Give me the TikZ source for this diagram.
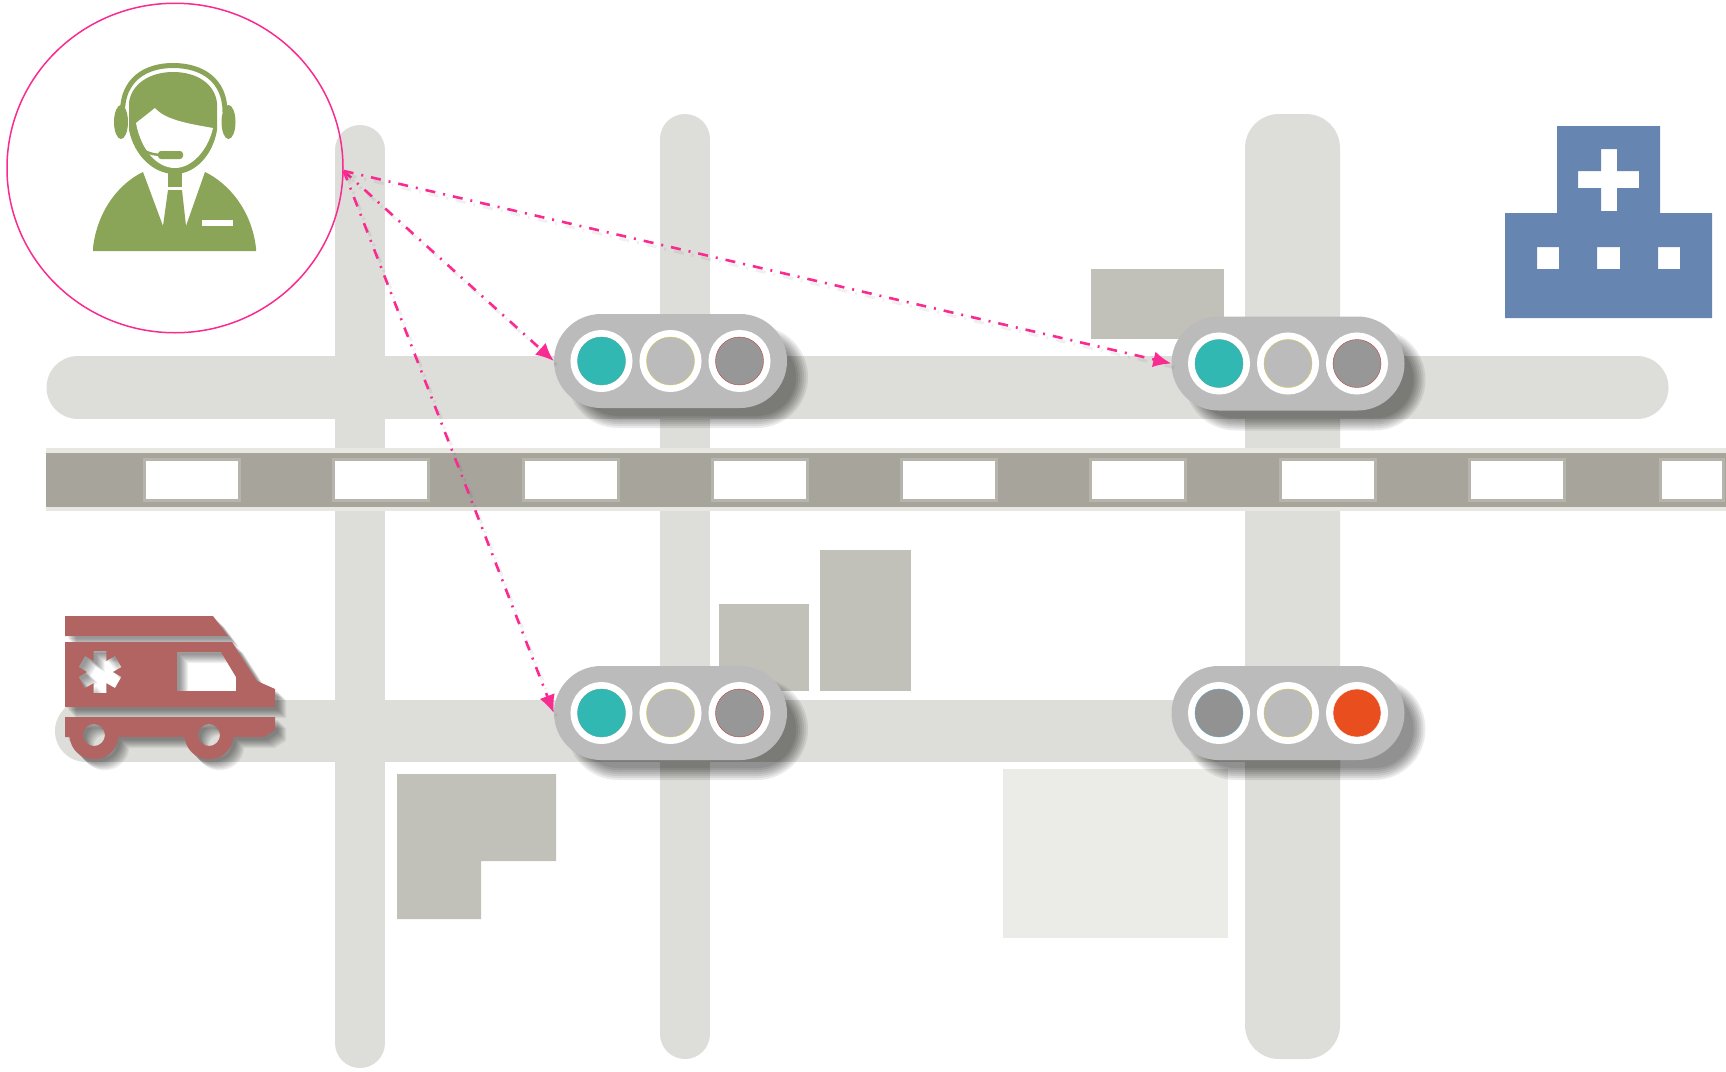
\documentclass[tikz,border=0pt]{standalone}
\usepackage{xcolor}
\usetikzlibrary{arrows.meta,positioning,shapes.geometric}
\definecolor{roadgrey}{HTML}{DDDDD9}
\definecolor{railgrey}{HTML}{A7A49B}
\definecolor{railedge}{HTML}{E8E7E2}
\definecolor{railframe}{HTML}{B6B4AB}
\definecolor{blockgrey}{HTML}{C2C1B9}
\definecolor{blockpale}{HTML}{EBEBE7}
\definecolor{linkpink}{HTML}{F92B90}
\definecolor{agentgreen}{HTML}{8BA558}
\definecolor{ambred}{HTML}{B16461}
\definecolor{hospblue}{HTML}{6685B0}
\definecolor{sigbody}{HTML}{BBBBBB}
\definecolor{lampteal}{HTML}{32B8B2}
\definecolor{lampdark}{HTML}{979797}
\definecolor{lampred}{HTML}{E94E1F}
\tikzset{
    road/.style={
        draw=roadgrey,line cap=round
    },
    railwin/.style={
        draw=railframe,line width=3pt,fill=white
    },
    block/.style={
        fill=#1
    },
    block/.default=blockgrey,
    signal/.style={
        rectangle,rounded corners=47pt,fill=sigbody,inner sep=0pt,
        minimum width=233pt,minimum height=94pt
    },
    sigshade/.style={
        fill=black,opacity=.08
    },
    lamp/.style 2 args={
        circle,inner sep=0pt,outer sep=0pt,minimum size=48pt,
        fill=#1,draw=#2,line width=.4pt,
        preaction={draw=white,line width=14pt}
    },
    lampgo/.style={lamp={lampteal}{lampteal!70!gray}},
    lampmid/.style={lamp={sigbody}{yellow!60!gray}},
    lampoff/.style={lamp={lampdark}{red!45!gray}},
    lampdim/.style={lamp={lampdark!105}{cyan!50!gray}},
    lampstop/.style={lamp={lampred}{white}},
    link/.style={
        -{Latex[length=18pt,width=16pt]},line width=2.6pt,draw=linkpink,
        dash pattern=on 10pt off 8pt on 2pt off 8pt,
    },
    linkshade/.style={
        line width=3pt,draw=black,opacity=.06,
        dash pattern=on 10pt off 8pt on 2pt off 8pt,
        transform canvas={xshift=3pt,yshift=-4pt}
    },
    ambfill/.style={fill=ambred,even odd rule},
    ambshade/.style={fill=black,opacity=.055,even odd rule},
    agent/.style={fill=agentgreen,draw=none},
    agentline/.style={draw=agentgreen}
}
\newcommand\ambpath{
    (65,616) -- (213,616) -- (228,636) -- (65,636) -- cycle
    (65,642) -- (232,642) -- (257,681) -- (275,689) -- (275,707) -- (65,707) -- cycle
    (177,652) -- (221,652) -- (236,677) -- (236,691) -- (177,691) -- cycle
    (65,717) -- (275,717) -- (275,730) -- (264,737) -- (233.4,737)
    arc[start angle=5,end angle=175,radius=24.5] -- (118.4,737)
    arc[start angle=5,end angle=175,radius=24.5] -- (65,737) -- cycle
    (94,735) circle[radius=11] (209,735) circle[radius=11]
    {[shift={(100,672)}] (60:13)
    \foreach \a in {90,150,...,390} {-- (\a-17:22) -- (\a+17:22) -- (\a+30:13)} -- cycle}
}

\begin{document}
\begin{tikzpicture}[x=1pt,y=-1pt]
\useasboundingbox (0,0) rectangle (1726,1071);

% roads
\draw[road,line width=63pt] (78,387.5) -- (1637,387.5);
\draw[road,line width=62pt] (86,731) -- (1290,731);
\draw[road,line width=50pt] (360,150) -- (360,1043);
\draw[road,line width=50pt] (685,139) -- (685,1034);
\fill[roadgrey,rounded corners=34pt] (1245,114) rectangle (1340,1059);

% railway
\fill[railedge] (46,448) rectangle (1726,511);
\fill[railgrey] (46,453) rectangle (1726,507);
\foreach \x/\w in {146/92,335/92,525/92,714/92,903/92,1092/92,1282/92,1471/92,1662/60}
    \draw[railwin] (\x-1.5,459.5) rectangle ++(\w+3,41);

% blocks
\fill[block] (1091,269) rectangle (1224,339);
\fill[block] (719,604) rectangle (809,691);
\fill[block] (820,550) rectangle (911,691);
\fill[block] (397,774) -- (556,774) -- (556,861) -- (481,861) -- (481,919) -- (397,919) -- cycle;
\fill[block=blockpale] (1003,769) rectangle (1228,938);

% hospital
\fill[hospblue,even odd rule]
    (1557,126) -- (1660,126) -- (1660,213) -- (1712,213) -- (1712,318) -- (1505,318) -- (1505,213) -- (1557,213) -- cycle
    (1601,149) -- (1617,149) -- (1617,171) -- (1639,171) -- (1639,188) -- (1617,188) -- (1617,211) -- (1601,211) -- (1601,188) -- (1578,188) -- (1578,171) -- (1601,171) -- cycle
    (1537,247) rectangle (1559,269) (1597,247) rectangle (1620,269) (1658,247) rectangle (1680,269);

% ambulance
\foreach \d in {3,...,11}
    \fill[ambshade,shift={(\d,\d)}] \ambpath;
\fill[ambfill] \ambpath;

% signals
\foreach \n/\x/\y/\a/\c in {sigA/670.5/361/lampgo/lampoff,sigB/1288/363.5/lampgo/lampoff,sigC/670.5/713/lampgo/lampoff,sigD/1288/713/lampdim/lampstop}{
    \foreach \g [evaluate=\g as \r using 47+\g] in {-8,-6,...,4}
        \fill[sigshade,rounded corners=\r pt] (\x-116.5+17-\g,\y-47+16-\g) rectangle ++(233+2*\g,94+2*\g);
    \node[signal] (\n) at (\x,\y) {};
    \node[lampmid] (\n m) at (\n) {};
    \node[\a,left=21pt of \n m] (\n l) {};
    \node[\c,right=21pt of \n m] (\n r) {};
}

% operator
\node[ellipse,draw=linkpink,line width=1.5pt,inner sep=0pt,minimum width=336pt,minimum height=329.5pt] (op) at (175,168) {};
\draw[agentline,line width=5pt] (122.5,112) .. controls (122.5,80) and (145,65.5) .. (173,65.5) .. controls (202,65.5) and (225,80) .. (225,112);
\fill[agent] (121,122) ellipse[x radius=7,y radius=17];
\fill[agent] (228.5,122) ellipse[x radius=7,y radius=17];
\fill[agent] (129,103) .. controls (131,84) and (150,72) .. (173,72) .. controls (197,72) and (215,84) .. (217,103) -- (217,130) .. controls (213,155) and (195,174) .. (175,174) .. controls (153,174) and (134,155) .. (129,130) -- cycle;
\fill[white] (136,123) -- (155,108) .. controls (165,120) and (190,124) .. (213,128) .. controls (208,150) and (192,168) .. (175,168) .. controls (157,168) and (141,150) .. (136,123) -- cycle;
\draw[agentline,line width=2.5pt] (139,143) .. controls (142,152) and (150,154) .. (160,155);
\fill[agent,rounded corners=3pt] (158,151) rectangle (183,159);
\fill[agent] (168,170) rectangle (182,187);
\fill[agent] (93,248) .. controls (97,212) and (118,184) .. (143,172) -- (163,226) -- (168,190) -- (182,190) -- (186,226) -- (205,172) .. controls (230,184) and (252,212) .. (256,248) -- (256,251) -- (93,251) -- cycle;
\fill[white] (202,220) rectangle (233,226);

% links
\foreach \t in {sigA,sigB,sigC}{
    \draw[linkshade] (op.-1) -- (\t.west);
    \draw[link] (op.-1) -- (\t.west);
}

\end{tikzpicture}
\end{document}
